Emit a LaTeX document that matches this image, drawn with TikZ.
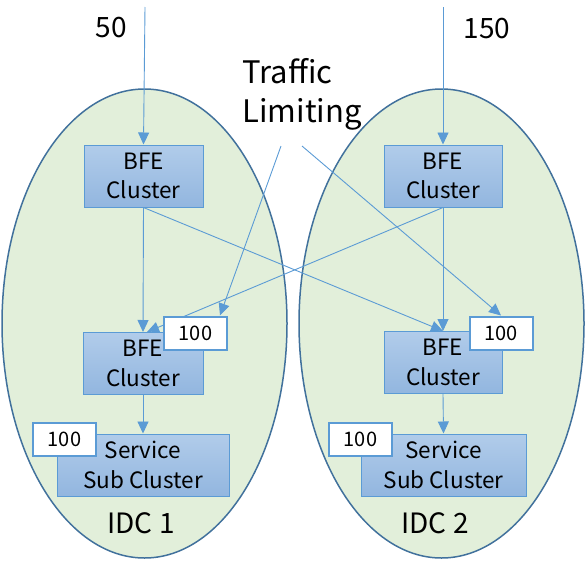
\documentclass[tikz,border=0pt]{standalone}
\usepackage{fontspec}
\setmainfont{Noto Sans CJK SC}
\usetikzlibrary{arrows.meta}
\definecolor{idcfill}{HTML}{E2EFDA}
\definecolor{idcline}{HTML}{41719C}
\definecolor{boxline}{HTML}{5B9BD5}
\definecolor{boxtop}{HTML}{B1CCEA}
\definecolor{boxbot}{HTML}{92B6DF}
\begin{document}
\begin{tikzpicture}[x=1pt, y=-1pt,
  idc/.style={draw=idcline, line width=1.5pt, fill=idcfill},
  bfe/.style={draw=boxline, line width=1pt, top color=boxtop, bottom color=boxbot,
    inner sep=0pt, align=center, minimum height=62pt, font=\fontsize{22.5}{29.5}\selectfont},
  limit/.style={draw=boxline, line width=2pt, fill=white, inner sep=0pt,
    minimum width=63pt, minimum height=33pt, font=\fontsize{20}{22}\selectfont},
  flow/.style={boxline, line width=0.9pt, -{Triangle[width=11pt,length=12pt]}},
  big/.style={font=\fontsize{28}{36}\selectfont}
]
\useasboundingbox (0,0) rectangle (586,560);

% the two IDCs
\draw[idc] (144.5,323.5) ellipse [x radius=142.5pt, y radius=234.5pt];
\draw[idc] (441.5,323.5) ellipse [x radius=142.5pt, y radius=234.5pt];

\node[big] (idc1) at (141,523) {IDC 1};
\node[big] (idc2) at (435,523) {IDC 2};

\node[bfe, minimum width=119pt] (top1) at (143.5,176) {BFE\\Cluster};
\node[bfe, minimum width=118pt] (top2) at (443,176)   {BFE\\Cluster};
\node[bfe, minimum width=120pt] (mid1) at (143,363.5) {BFE\\Cluster};
\node[bfe, minimum width=118pt] (mid2) at (443,362.5) {BFE\\Cluster};
\node[bfe, minimum width=172pt] (svc1) at (143,465)   {Service\\Sub Cluster};
\node[bfe, minimum width=165pt] (svc2) at (443.5,465) {Service\\Sub Cluster};

\coordinate (in1) at (145,7);
\coordinate (in2) at (443,7);
\node[big] (q1) at (111,28) {50};
\node[big] (q2) at (487,29) {150};

\draw[flow] (in1) -- (top1.north);
\draw[flow] (in2) -- (top2.north);
\draw[flow] (top1.south) -- (mid1.north);
\draw[flow] (top1.south) -- (mid2.north);
\draw[flow] (top2.south) -- ([xshift=4pt]mid1.north);
\draw[flow] (top2.south) -- (mid2.north);
\draw[flow] (mid1.south) -- (svc1.north);
\draw[flow] (mid2.south) -- (svc2.north);

\node[limit] (lim1) at (195.5,333) {100};
\node[limit] (lim2) at (501,333)   {100};
\node[limit] (lim3) at (64.5,439.5) {100};
\node[limit] (lim4) at (360.5,439)  {100};

% traffic limiting
\node[big, align=left, anchor=north west, font=\fontsize{31}{39}\selectfont] (tl) at (239,55) {Traffic\\Limiting};
\coordinate (tl1) at (281,146);
\coordinate (tl2) at (302,146);
\draw[flow] (tl1) -- ([xshift=-8pt]lim1.north east);
\draw[flow] (tl2) -- (lim2.north);

\end{tikzpicture}
\end{document}
